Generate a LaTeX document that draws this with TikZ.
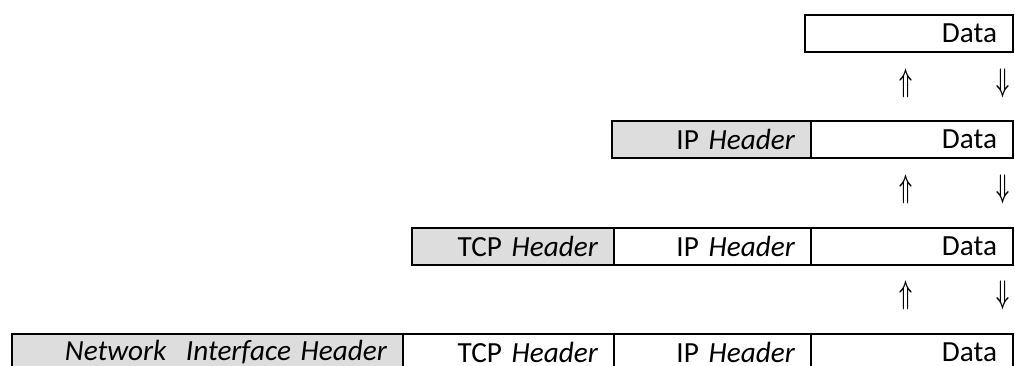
\documentclass[tikz,border=0pt]{standalone}
\usepackage{fontspec}
\setmainfont{Carlito}
\usepackage{graphicx}
\usetikzlibrary{positioning}
\definecolor{hdrgray}{HTML}{DDDDDD}
\newcommand{\upmark}{\resizebox*{6.5pt}{14.5pt}{\boldmath$\Uparrow$}}
\newcommand{\downmark}{\resizebox*{6.5pt}{14.5pt}{\boldmath$\Downarrow$}}

\begin{document}
\begin{tikzpicture}[
    x=0.5pt, y=-0.5pt,
    node distance=0pt,
    cell/.style={draw, line width=1pt, outer sep=0pt, inner xsep=8pt, inner ysep=0pt, minimum height=18.5pt, text width=#1, align=right, font=\fontsize{14.6}{16}\selectfont},
    hdr/.style={cell=#1, fill=hdrgray},
    flow/.style={inner sep=0pt}
]
\useasboundingbox (0,0) rectangle (1015,365);
% application layer
\node[cell=88pt, anchor=east] (data1) at (1013,33) {Data};
% internet layer
\node[cell=85pt, anchor=east] (data2) at (1013,139.5) {Data};
\node[hdr=83.5pt, left=of data2] (ip2) {IP \textit{Header}};
% transport layer
\node[cell=85pt, anchor=east] (data3) at (1013,246) {Data};
\node[cell=82.5pt, left=of data3] (ip3) {IP \textit{Header}};
\node[hdr=85pt, left=of ip3] (tcp3) {TCP \textit{Header}};
% network interface layer
\node[cell=85pt, anchor=east] (data4) at (1013,352.5) {Data};
\node[cell=82.5pt, left=of data4] (ip4) {IP \textit{Header}};
\node[cell=89.5pt, left=of ip4] (tcp4) {TCP \textit{Header}};
\node[hdr=179.5pt, left=of tcp4] (nih4) {\textit{Network\ \ Interface Header}};
% up and down
\node[flow] (up1) at (906,83) {\upmark};
\node[flow] (down1) at (1003,83) {\downmark};
\node[flow] (up2) at (906,189) {\upmark};
\node[flow] (down2) at (1003,189) {\downmark};
\node[flow] (up3) at (906,295) {\upmark};
\node[flow] (down3) at (1003,295) {\downmark};
\end{tikzpicture}
\end{document}
